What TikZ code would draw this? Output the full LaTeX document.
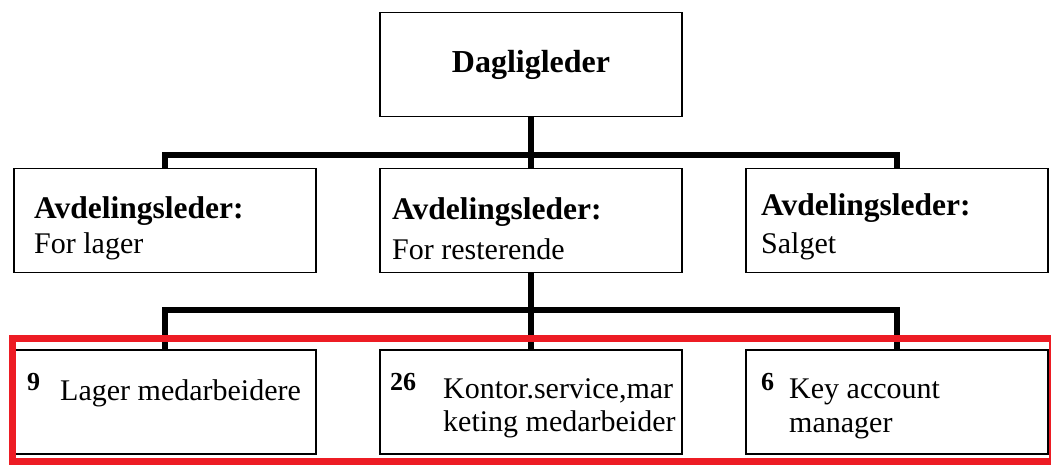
\documentclass[tikz,border=0pt]{standalone}
\usepackage{fontspec}
\setmainfont{Liberation Serif}
\definecolor{markred}{RGB}{237,28,36}

\begin{document}
\begin{tikzpicture}[x=1pt,y=-1pt,
	box/.style={draw, line width=1.8pt, minimum width=302pt, minimum height=104pt, inner sep=0pt},
	bus/.style={line width=5.5pt, line join=miter},
	txt/.style={anchor=base west, inner sep=0pt, font=\fontsize{30}{35}\selectfont},
	head/.style={txt, font=\fontsize{31.5}{35}\selectfont\bfseries},
	num/.style={anchor=base west, inner sep=0pt, font=\fontsize{26}{30}\selectfont\bfseries}]
		\useasboundingbox (0,0) rectangle (1051,464);
		% boxes
		\node[box, font=\fontsize{32}{35}\selectfont\bfseries] (chef) at (531,64.5) {Dagligleder};
		\node[box] (lager) at (165,220.5) {};
		\node[box] (rest) at (531,220.5) {};
		\node[box] (salg) at (897,220.5) {};
		\node[box] (lagerm) at (165,402) {};
		\node[box] (kontor) at (531,402) {};
		\node[box] (kam) at (897,402) {};
		% connectors
		\coordinate (bus1) at (531,155);
		\coordinate (bus2) at (531,310);
		\draw[bus] (chef.south) -- (bus1);
		\draw[bus] (lager.north) -- (lager.north |- bus1) -- (salg.north |- bus1) -- (salg.north);
		\draw[bus] (bus1) -- (rest.north);
		\draw[bus] (rest.south) -- (bus2);
		\draw[bus] (lagerm.north) -- (lagerm.north |- bus2) -- (kam.north |- bus2) -- (kam.north);
		\draw[bus] (bus2) -- (kontor.north);
		% texts
		\node[head] (lagerh) at (34,218) {Avdelingsleder:};
		\node[txt] (lagert) at (34,253) {For lager};
		\node[head] (resth) at (392,219) {Avdelingsleder:};
		\node[txt] (restt) at (392,259) {For resterende};
		\node[head] (salgh) at (761,215) {Avdelingsleder:};
		\node[txt] (salgt) at (761,253) {Salget};
		\node[num] (n9) at (27,390) {9};
		\node[txt] (lagermt) at (60,400) {Lager medarbeidere};
		\node[num] (n26) at (390,390) {26};
		\node[txt] (kontort) at (443,398) {Kontor.service,mar};
		\node[txt] (kontortb) at (443,431) {keting medarbeider};
		\node[num] (n6) at (761,390) {6};
		\node[txt] (kamt) at (789,398) {Key account};
		\node[txt] (kamtb) at (789,432) {manager};
		% marking
		\draw[markred, line width=7pt] (12,338.5) rectangle (1062,461);
		\draw[markred, line width=1.5pt] (1050,338.5) -- (1050,461);
	\end{tikzpicture}
\end{document}
